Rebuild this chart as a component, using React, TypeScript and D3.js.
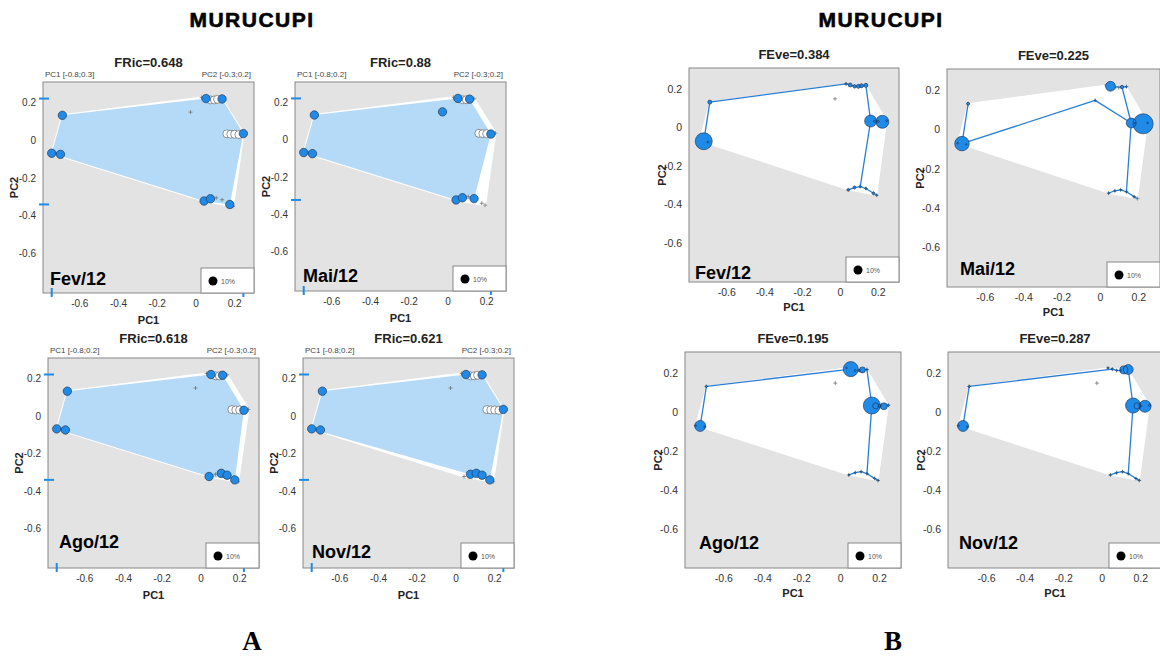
import React from 'react';
import * as d3 from 'd3';

// species coordinates in the functional space (PC1, PC2)
const speciesPC1 = [-0.745, -0.722, -0.7, -0.69, -0.028, 0.03, 0.052, 0.075, 0.095, 0.112, 0.135, 0.16, 0.18, 0.2, 0.222, 0.245, 0.042, 0.075, 0.105, 0.135, 0.175, 0.192];
const speciesPC2 = [-0.068, -0.07, -0.074, 0.133, 0.15, 0.228, 0.222, 0.215, 0.215, 0.218, 0.22, 0.035, 0.033, 0.033, 0.031, 0.036, -0.322, -0.31, -0.305, -0.315, -0.34, -0.35];

const months = ['Fev/12', 'Mai/12', 'Ago/12', 'Nov/12'];

// A - functional richness
const fricValues = ['0.648', '0.88', '0.618', '0.621'];
const pc1Ranges = ['[-0.8;0.3]', '[-0.8;0.2]', '[-0.8;0.2]', '[-0.8;0.2]'];
const pc2Ranges = ['[-0.3;0.2]', '[-0.3;0.2]', '[-0.3;0.2]', '[-0.3;0.2]'];
const fricPresent = [
  [0, 2, 3, 6, 10, 15, 16, 17, 20],
  [0, 2, 3, 4, 6, 9, 14, 16, 17, 19],
  [0, 2, 3, 6, 9, 14, 16, 18, 19, 20],
  [0, 2, 3, 6, 10, 15, 17, 18, 19, 20],
];
const fricWhite = [
  [7, 8, 9, 11, 12, 13, 14],
  [7, 8, 11, 12, 13],
  [7, 8, 11, 12, 13],
  [7, 8, 9, 11, 12, 13, 14],
];

// B - functional evenness (relative abundances + MST edges)
const feveValues = ['0.384', '0.225', '0.195', '0.287'];
const feveAbund = [
  [0, 0.357, 0.005, 0.02, 0, 0.005, 0.02, 0.015, 0.02, 0.02, 0.02, 0.178, 0.005, 0.005, 0.209, 0.005, 0.008, 0.01, 0.005, 0.005, 0.008, 0.003],
  [0.003, 0.26, 0.003, 0.01, 0.003, 0, 0.12, 0, 0, 0.015, 0.003, 0.12, 0.003, 0, 0.5, 0.003, 0.003, 0.003, 0.003, 0.003, 0.003, 0],
  [0.003, 0.15, 0.003, 0.005, 0, 0.003, 0.28, 0.005, 0.005, 0.045, 0.003, 0.36, 0.045, 0.01, 0.06, 0.005, 0.003, 0.003, 0.003, 0.003, 0.003, 0.003],
  [0.003, 0.15, 0.003, 0.005, 0, 0.003, 0.005, 0.003, 0.003, 0.08, 0.12, 0.28, 0.045, 0.005, 0.18, 0.005, 0.003, 0.003, 0.003, 0.003, 0.003, 0.003],
];
const feveEdges = [
  [[0, 1], [1, 2], [1, 3], [3, 5], [5, 6], [6, 7], [7, 8], [8, 9], [9, 10], [10, 11], [11, 12], [12, 13], [13, 14], [14, 15], [11, 18], [16, 17], [17, 18], [18, 19], [19, 20], [20, 21]],
  [[0, 1], [1, 2], [1, 3], [1, 4], [4, 11], [11, 9], [9, 6], [9, 10], [11, 12], [12, 14], [14, 15], [11, 19], [19, 18], [18, 17], [17, 16], [19, 20], [20, 21]],
  [[0, 1], [1, 2], [1, 3], [3, 6], [6, 7], [7, 8], [8, 9], [9, 10], [10, 11], [11, 12], [12, 13], [13, 14], [14, 15], [11, 19], [19, 18], [18, 17], [17, 16], [19, 20], [20, 21]],
  [[0, 1], [1, 2], [1, 3], [3, 6], [6, 7], [7, 8], [8, 9], [9, 10], [10, 11], [11, 12], [12, 13], [13, 14], [14, 15], [11, 19], [19, 18], [18, 17], [17, 16], [19, 20], [20, 21]],
];

const xTicks = [-0.6, -0.4, -0.2, 0, 0.2];
const yTicks = [0.2, 0, -0.2, -0.4, -0.6];

const fricXDomain = [-0.79, 0.3];
const fricYDomain = [-0.81, 0.31];
const feveXDomain = [-0.8, 0.31];
const feveYDomain = [-0.8, 0.31];

const fricLayout = [
  { x: 43, y: 82, w: 211, h: 211, lx: 7, ly: -8 },
  { x: 295, y: 82, w: 211, h: 209, lx: 8, ly: -9 },
  { x: 48, y: 358, w: 211, h: 210, lx: 11, ly: -20 },
  { x: 303, y: 358, w: 211, h: 210, lx: 9, ly: -10 },
];
const feveLayout = [
  { x: 689, y: 68, w: 210, h: 214, lx: 6, ly: -3 },
  { x: 947, y: 69, w: 213, h: 218, lx: 13, ly: -12 },
  { x: 685, y: 352, w: 216, h: 216, lx: 14, ly: -19 },
  { x: 948, y: 352, w: 214, h: 216, lx: 11, ly: -19 },
];

const SANS = 'Liberation Sans, Arial, Helvetica, sans-serif';
const GRAY_BG = '#e3e3e3';
const BLUE = '#1f8ae8';
const HULL_BLUE = '#b4daf8';

const fmt = (v: number) => (v === 0 ? '0' : v.toFixed(1));

const Cross = ({ cx, cy, s = 2.5, color = '#777' }: any) => (
  <path d={`M${cx - s},${cy}H${cx + s}M${cx},${cy - s}V${cy + s}`} stroke={color} strokeWidth={0.8} />
);

const Axes = ({ L, x, y, tickSize, pcOffX, pcOffY }: any) => (
  <g fontFamily={SANS}>
    {xTicks.map((t) => (
      <text key={'x' + t} x={x(t)} y={L.y + L.h + 14} textAnchor="middle" fontSize={tickSize} fill="#333">{fmt(t)}</text>
    ))}
    {yTicks.map((t) => (
      <text key={'y' + t} x={L.x - 7} y={y(t) + 3.5} textAnchor="end" fontSize={tickSize} fill="#333">{fmt(t)}</text>
    ))}
    <text x={L.x + L.w / 2} y={L.y + L.h + pcOffY} textAnchor="middle" fontSize={11} fontWeight="bold" fill="#222">PC1</text>
    <text transform={`translate(${L.x + pcOffX},${L.y + L.h / 2}) rotate(-90)`} textAnchor="middle" fontSize={11} fontWeight="bold" fill="#222">PC2</text>
  </g>
);

const Legend = ({ L }: any) => {
  const lw = 53, lh = 25;
  const lx = L.x + L.w - lw, ly = L.y + L.h - lh;
  return (
    <g>
      <rect x={lx} y={ly} width={lw} height={lh} fill="#fff" stroke="#888" strokeWidth={1} />
      <circle cx={lx + 12} cy={ly + 13} r={4.5} fill="#000" />
      <text x={lx + 20} y={ly + 15.5} fontSize={7} fontFamily={SANS} fill="#555">10%</text>
    </g>
  );
};

const FRicPanel = ({ i }: { i: number }) => {
  const L = fricLayout[i];
  const x = d3.scaleLinear().domain(fricXDomain).range([L.x, L.x + L.w]);
  const y = d3.scaleLinear().domain(fricYDomain).range([L.y + L.h, L.y]);
  const pts: [number, number][] = speciesPC1.map((v, k) => [x(v), y(speciesPC2[k])]);
  const globalHull = d3.polygonHull(pts) || [];
  const present = fricPresent[i];
  const white = fricWhite[i];
  const presHull = d3.polygonHull(present.map((k) => pts[k])) || [];
  const e1 = d3.extent(present, (k) => speciesPC1[k]) as [number, number];
  const e2 = d3.extent(present, (k) => speciesPC2[k]) as [number, number];
  const poly = (p: [number, number][]) => 'M' + p.map((q) => q.join(',')).join('L') + 'Z';
  const others = pts.map((_, k) => k).filter((k) => !present.includes(k) && !white.includes(k));
  const clipId = 'clipA' + i;
  return (
    <g>
      <defs>
        <clipPath id={clipId}><rect x={L.x} y={L.y} width={L.w} height={L.h} /></clipPath>
      </defs>
      <rect x={L.x} y={L.y} width={L.w} height={L.h} fill={GRAY_BG} />
      <g clipPath={`url(#${clipId})`}>
        <path d={poly(globalHull)} fill="#fff" stroke="#fff" strokeWidth={2} strokeLinejoin="round" />
        <path d={poly(presHull)} fill={HULL_BLUE} />
        {others.map((k) => <Cross key={k} cx={pts[k][0]} cy={pts[k][1]} s={2} />)}
        {white.map((k) => <circle key={'w' + k} cx={pts[k][0]} cy={pts[k][1]} r={4} fill="#fff" stroke="#666" strokeWidth={0.7} />)}
        {present.map((k) => <circle key={'p' + k} cx={pts[k][0]} cy={pts[k][1]} r={4.2} fill={BLUE} stroke="#2a3a55" strokeWidth={0.7} />)}
      </g>
      <rect x={L.x} y={L.y} width={L.w} height={L.h} fill="none" stroke="#888" strokeWidth={1} />
      {e1.map((v, j) => <line key={'bx' + j} x1={x(v)} x2={x(v)} y1={L.y + L.h - 5} y2={L.y + L.h + 4} stroke={BLUE} strokeWidth={2} />)}
      {e2.map((v, j) => <line key={'by' + j} x1={L.x - 4} x2={L.x + 6} y1={y(v)} y2={y(v)} stroke={BLUE} strokeWidth={2} />)}
      <Legend L={L} />
      <text x={L.x + L.lx} y={L.y + L.h + L.ly} fontFamily={SANS} fontSize={18} fontWeight="bold" fill="#000">{months[i]}</text>
      <text x={L.x + L.w / 2} y={L.y - 15} textAnchor="middle" fontFamily={SANS} fontSize={13} fontWeight="bold" fill="#222">{'FRic=' + fricValues[i]}</text>
      <text x={L.x + 2} y={L.y - 5} fontFamily={SANS} fontSize={8} fill="#444">{'PC1 ' + pc1Ranges[i]}</text>
      <text x={L.x + L.w - 3} y={L.y - 5} textAnchor="end" fontFamily={SANS} fontSize={8} fill="#444">{'PC2 ' + pc2Ranges[i]}</text>
      <Axes L={L} x={x} y={y} tickSize={10} pcOffX={-25} pcOffY={31} />
    </g>
  );
};

const FEvePanel = ({ i }: { i: number }) => {
  const L = feveLayout[i];
  const x = d3.scaleLinear().domain(feveXDomain).range([L.x, L.x + L.w]);
  const y = d3.scaleLinear().domain(feveYDomain).range([L.y + L.h, L.y]);
  const r = d3.scaleSqrt().domain([0, 0.1]).range([0, 4.5]);
  const pts: [number, number][] = speciesPC1.map((v, k) => [x(v), y(speciesPC2[k])]);
  const globalHull = d3.polygonHull(pts) || [];
  const ab = feveAbund[i];
  const poly = (p: [number, number][]) => 'M' + p.map((q) => q.join(',')).join('L') + 'Z';
  const order = ab.map((_, k) => k).filter((k) => ab[k] > 0).sort((a, b) => ab[b] - ab[a]);
  const clipId = 'clipB' + i;
  return (
    <g>
      <defs>
        <clipPath id={clipId}><rect x={L.x} y={L.y} width={L.w} height={L.h} /></clipPath>
      </defs>
      <rect x={L.x} y={L.y} width={L.w} height={L.h} fill={GRAY_BG} />
      <g clipPath={`url(#${clipId})`}>
        <path d={poly(globalHull)} fill="#fff" stroke="#fff" strokeWidth={1} />
        {pts.map((p, k) => <Cross key={k} cx={p[0]} cy={p[1]} s={2} />)}
        {feveEdges[i].map(([a, b], j) => (
          <line key={'e' + j} x1={pts[a][0]} y1={pts[a][1]} x2={pts[b][0]} y2={pts[b][1]} stroke="#2a7fd4" strokeWidth={1.3} />
        ))}
        {order.map((k) => <circle key={'f' + k} cx={pts[k][0]} cy={pts[k][1]} r={r(ab[k])} fill={BLUE} />)}
        {order.map((k) => <circle key={'s' + k} cx={pts[k][0]} cy={pts[k][1]} r={r(ab[k])} fill="none" stroke="#1d2e4d" strokeWidth={0.6} />)}
      </g>
      <rect x={L.x} y={L.y} width={L.w} height={L.h} fill="none" stroke="#888" strokeWidth={1} />
      <Legend L={L} />
      <text x={L.x + L.lx} y={L.y + L.h + L.ly} fontFamily={SANS} fontSize={18} fontWeight="bold" fill="#000">{months[i]}</text>
      <text x={L.x + L.w / 2} y={L.y - 9} textAnchor="middle" fontFamily={SANS} fontSize={13} fontWeight="bold" fill="#222">{'FEve=' + feveValues[i]}</text>
      <Axes L={L} x={x} y={y} tickSize={10.5} pcOffX={-23} pcOffY={29} />
    </g>
  );
};

export default function App() {
  return (
    <svg width={1160} height={657} style={{ position: 'absolute', left: 0, top: 0, background: '#fff' }}>
      <text x={252} y={27} textAnchor="middle" fontFamily={SANS} fontSize={21} fontWeight="bold" letterSpacing={1.5} stroke="#000" strokeWidth={0.6}>MURUCUPI</text>
      <text x={881} y={27} textAnchor="middle" fontFamily={SANS} fontSize={21} fontWeight="bold" letterSpacing={1.5} stroke="#000" strokeWidth={0.6}>MURUCUPI</text>
      {months.map((_, i) => <FRicPanel key={'a' + i} i={i} />)}
      {months.map((_, i) => <FEvePanel key={'b' + i} i={i} />)}
      <text x={252} y={650} textAnchor="middle" fontFamily="Liberation Serif, Times New Roman, serif" fontSize={27} fontWeight="bold">A</text>
      <text x={893} y={650} textAnchor="middle" fontFamily="Liberation Serif, Times New Roman, serif" fontSize={27} fontWeight="bold">B</text>
    </svg>
  );
}
